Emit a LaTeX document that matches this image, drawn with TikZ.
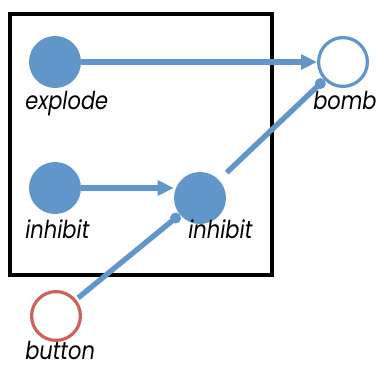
\documentclass[tikz,border=0pt]{standalone}
\usepackage{fontspec}
\setsansfont{Poppins}[FakeStretch=0.85]
\usetikzlibrary{positioning,arrows.meta}
\definecolor{wireblue}{RGB}{96,150,202}
\definecolor{buttonred}{RGB}{207,96,92}

\begin{document}
\begin{tikzpicture}[x=0.75pt,y=-0.75pt,
  cell/.style={circle,minimum size=39pt,inner sep=0pt},
  oncell/.style={cell,fill=wireblue},
  offcell/.style={cell,draw=#1,line width=2.4pt,minimum size=36.6pt},
  tag/.style={font=\sffamily\itshape\fontsize{18.5}{18.5}\selectfont,inner sep=0pt,anchor=base west},
  wire/.style={draw=wireblue,line width=4pt},
  push/.style={wire,-{Triangle[length=12pt,width=11pt]}},
  stop/.style={wire,-{Circle[length=8pt]}}]
  \useasboundingbox (0,0) rectangle (377,367);
  % the box
  \draw[line width=2.4pt] (10,14) rectangle (272,275);
  % cells
  \node[oncell](explode) at (55,62){};
  \node[oncell](inhibitA) at (55,188){};
  \node[oncell](inhibitB) at (200,198){};
  \node[offcell=wireblue](bomb) at (343,62){};
  \node[offcell=buttonred](button) at (56,316){};
  % names
  \node[tag] at (25,109){explode};
  \node[tag] at (25,238){inhibit};
  \node[tag] at (188,238){inhibit};
  \node[tag] at (313,109){bomb};
  \node[tag] at (25,359){button};
  % wires
  \draw[push] (explode) -- (bomb);
  \draw[push] (inhibitA) -- (inhibitB.west |- inhibitA);
  \draw[stop,shorten <=8pt] (inhibitB) -- (bomb);
  \draw[stop,shorten <=2pt] (button) -- (inhibitB);
\end{tikzpicture}
\end{document}
